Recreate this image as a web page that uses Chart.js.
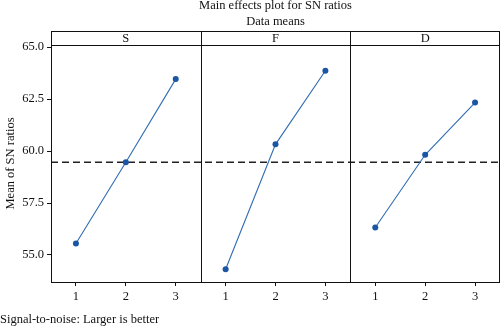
<!DOCTYPE html>
<html>
<head>
<meta charset="utf-8">
<script src="https://cdn.jsdelivr.net/npm/chart.js@4.4.0/dist/chart.umd.min.js"></script>
<style>
  html, body { margin: 0; padding: 0; background: #fff; }
  #wrap { position: relative; width: 500px; height: 327px; }
</style>
</head>
<body>
<div id="wrap"><canvas id="mainEffects" width="500" height="327"></canvas></div>
<script>
/* dati */
const factors = ["S", "F", "D"];
const levels = [1, 2, 3];
const sValues = [55.55, 59.46, 63.46];
const fValues = [54.31, 60.32, 63.86];
const dValues = [56.32, 59.82, 62.33];
const overallMean = 59.46;
const yTicks = [55.0, 57.5, 60.0, 62.5, 65.0];

const seriesValues = [sValues, fValues, dValues];
const serif = "'Liberation Serif', 'DejaVu Serif', serif";

/* ogni fattore occupa tre posizioni sull'asse x */
const datasets = seriesValues.map(function (vals, i) {
  return {
    label: factors[i],
    data: vals.map(function (v, j) { return { x: levels[j] + i * levels.length, y: v }; }),
    borderColor: "#2f6cb3",
    backgroundColor: "#1a56a3",
    borderWidth: 1.1,
    pointRadius: 3,
    pointBorderWidth: 0,
    tension: 0
  };
});

const xMin = 0.5;
const xMax = factors.length * levels.length + 0.5;

datasets.push({
  label: "mean",
  data: [{ x: xMin, y: overallMean }, { x: xMax, y: overallMean }],
  borderColor: "#222",
  borderWidth: 1.3,
  borderDash: [7, 4],
  pointRadius: 0
});

/* titoli, strisce dei pannelli e cornice */
const panelPlugin = {
  id: "panels",
  afterDatasetsDraw: function (chart) {
    const ctx = chart.ctx;
    const area = chart.chartArea;
    const x = chart.scales.x;
    const stripTop = area.top - 14;
    ctx.save();
    ctx.strokeStyle = "#111";
    ctx.lineWidth = 1;
    ctx.strokeRect(area.left + 0.5, stripTop + 0.5, area.right - area.left - 1, area.bottom - stripTop);
    ctx.beginPath();
    ctx.moveTo(area.left, area.top + 0.5);
    ctx.lineTo(area.right, area.top + 0.5);
    for (let i = 1; i < factors.length; i++) {
      const px = Math.round(x.getPixelForValue(i * levels.length + 0.5)) + 0.5;
      ctx.moveTo(px, stripTop);
      ctx.lineTo(px, area.bottom);
    }
    ctx.stroke();

    ctx.fillStyle = "#111";
    ctx.textAlign = "center";
    ctx.textBaseline = "middle";
    ctx.font = "12.5px " + serif;
    factors.forEach(function (f, i) {
      const cx = x.getPixelForValue(i * levels.length + 2);
      ctx.fillText(f, cx, stripTop + 7.5);
    });

    const mid = (area.left + area.right) / 2;
    ctx.fillText("Main effects plot for SN ratios", mid, 6);
    ctx.fillText("Data means", mid, 22);

    ctx.textAlign = "left";
    ctx.fillText("Signal-to-noise: Larger is better", 0, 320);
    ctx.restore();
  }
};

const ctx = document.getElementById("mainEffects").getContext("2d");
new Chart(ctx, {
  type: "line",
  data: { datasets: datasets },
  options: {
    responsive: false,
    animation: false,
    layout: { autoPadding: false, padding: { top: 45, right: 0, bottom: 0, left: 0 } },
    plugins: {
      legend: { display: false },
      tooltip: { enabled: false }
    },
    scales: {
      x: {
        type: "linear",
        min: xMin,
        max: xMax,
        afterBuildTicks: function (axis) {
          const t = [];
          for (let i = 0; i < factors.length; i++) {
            levels.forEach(function (l) { t.push({ value: l + i * levels.length }); });
          }
          axis.ticks = t;
        },
        afterFit: function (axis) { axis.height = 45; },
        ticks: {
          color: "#111",
          font: { family: serif, size: 12.5 },
          padding: 3,
          maxRotation: 0,
          callback: function (v) { return String(levels[(v - 1) % levels.length]); }
        },
        grid: { drawOnChartArea: false, drawTicks: true, tickLength: 4, color: "#111" },
        border: { display: true, color: "#111" }
      },
      y: {
        min: 53.7,
        max: 65.1,
        afterBuildTicks: function (axis) {
          axis.ticks = yTicks.map(function (v) { return { value: v }; });
        },
        afterFit: function (axis) { axis.width = 51; },
        ticks: {
          color: "#111",
          font: { family: serif, size: 12.5 },
          padding: 3,
          callback: function (v) { return Number(v).toFixed(1); }
        },
        title: {
          display: true,
          text: "Mean of SN ratios",
          color: "#111",
          font: { family: serif, size: 12.5 },
          padding: { top: 3, bottom: 0 }
        },
        grid: { drawOnChartArea: false, drawTicks: true, tickLength: 4, color: "#111" },
        border: { display: true, color: "#111" }
      }
    }
  },
  plugins: [panelPlugin]
});
</script>
</body>
</html>
